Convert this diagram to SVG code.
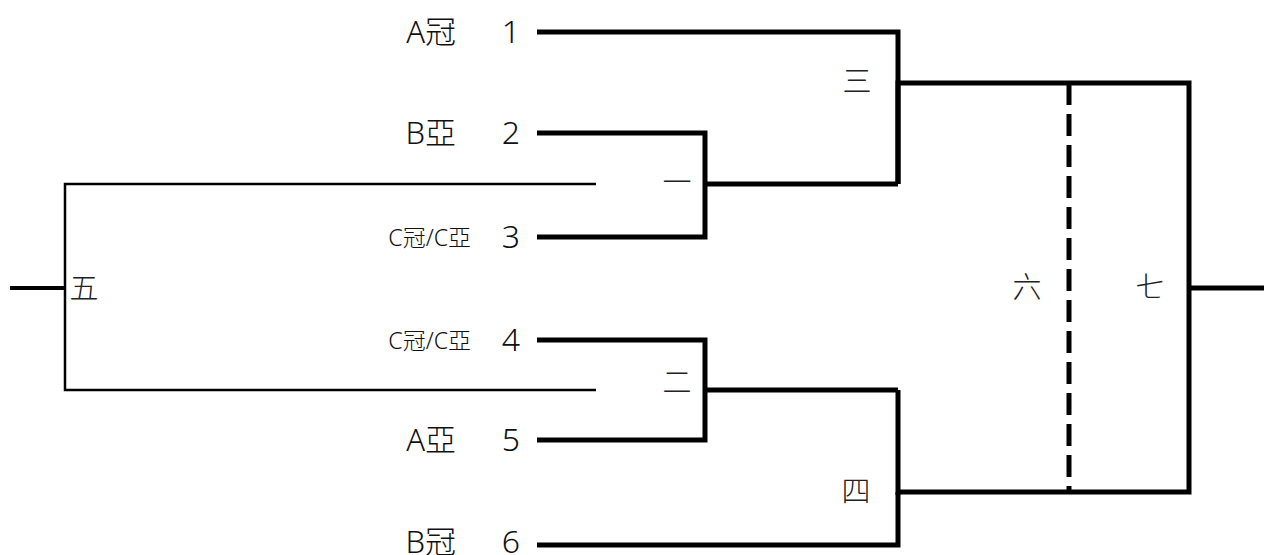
<svg xmlns="http://www.w3.org/2000/svg" width="1264" height="555" viewBox="0 0 1264 555">
<style>
.thick{fill:none;stroke:#000;stroke-width:5;stroke-linecap:butt;stroke-linejoin:miter}
.thin{fill:none;stroke:#000;stroke-width:2.5}
.dash{fill:none;stroke:#000;stroke-width:5;stroke-dasharray:22 9}
text{font-family:"Noto Sans","Noto Sans CJK TC",sans-serif;fill:#111}
.lab{font-size:31px;text-anchor:end;font-weight:300}
.sm{font-size:23px;text-anchor:end;font-weight:300}
.num{font-size:32px;text-anchor:middle;font-weight:300}
.rd{font-family:"Noto Sans CJK TC",sans-serif;font-size:29px;text-anchor:middle;font-weight:300;fill:#222}
</style>
<rect width="1264" height="555" fill="#fff"/>
<g id="connectors">
<polyline class="thick" points="537,32 898,32 898,184"/>
<polyline class="thick" points="537,133 705,133 705,237 537,237"/>
<line class="thick" x1="705" y1="184" x2="898" y2="184"/>
<polyline class="thick" points="898,184 898,83 1189,83 1189,492 898,492"/>
<polyline class="thick" points="537,340 705,340 705,440 537,440"/>
<line class="thick" x1="705" y1="390" x2="898" y2="390"/>
<polyline class="thick" points="898,390 898,545 537,545"/>
<line class="thick" x1="898" y1="492" x2="898" y2="495"/>
<line class="thick" x1="1189" y1="288" x2="1264" y2="288"/>
<line class="dash" x1="1069" y1="83" x2="1069" y2="492"/>
<polyline class="thin" points="596,184 65,184 65,390 596,390"/>
<line class="thick" x1="10" y1="288" x2="65" y2="288" style="stroke-width:4"/>
</g>
<g id="team1"><text class="lab" x="456" y="43">A冠</text><text class="num" x="511" y="43">1</text></g>
<g id="team2"><text class="lab" x="456" y="144">B亞</text><text class="num" x="511" y="144">2</text></g>
<g id="team3"><text class="sm" x="471" y="246">C冠/C亞</text><text class="num" x="511" y="248">3</text></g>
<g id="team4"><text class="sm" x="471" y="349">C冠/C亞</text><text class="num" x="511" y="351">4</text></g>
<g id="team5"><text class="lab" x="456" y="451">A亞</text><text class="num" x="511" y="451">5</text></g>
<g id="team6"><text class="lab" x="456" y="553">B冠</text><text class="num" x="511" y="553">6</text></g>
<g id="m1"><text class="rd" x="677" y="193">一</text></g>
<g id="m2"><text class="rd" x="677" y="393">二</text></g>
<g id="m3"><text class="rd" x="857" y="92">三</text></g>
<g id="m4"><text class="rd" x="856" y="502">四</text></g>
<g id="m5"><text class="rd" x="84" y="299">五</text></g>
<g id="m6"><text class="rd" x="1027" y="298">六</text></g>
<g id="m7"><text class="rd" x="1150" y="298">七</text></g>
</svg>
